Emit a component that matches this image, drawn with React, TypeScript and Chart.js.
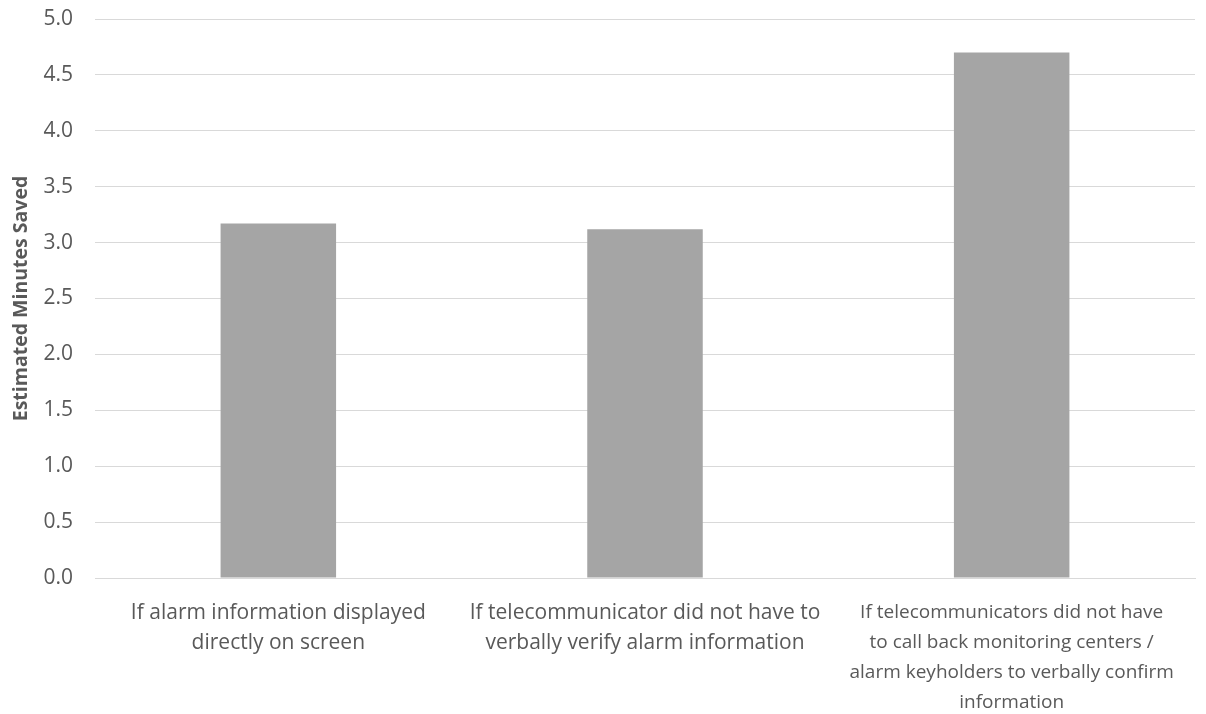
import React, { useEffect, useRef } from "react";
import { Chart, registerables } from "chart.js";

Chart.register(...registerables);

const categories: string[][] = [
  ["If alarm information displayed", "directly on screen"],
  ["If telecommunicator did not have to", "verbally verify alarm information"],
  ["If telecommunicators did not have", "to call back monitoring centers /", "alarm keyholders to verbally confirm", "information"],
];
const minutesSaved: number[] = [3.17, 3.12, 4.7];
const yTicks: number[] = [0, 0.5, 1, 1.5, 2, 2.5, 3, 3.5, 4, 4.5, 5];
const yTitle = "Estimated Minutes Saved";

const TEXT = "#595959";
const FONT = "'Open Sans', 'DejaVu Sans', sans-serif";
// the long third label is set a little tighter than the other two
const labelSizes: number[] = [21, 21, 19];

export default function App() {
  const ref = useRef<HTMLCanvasElement | null>(null);

  useEffect(() => {
    if (!ref.current) return;
    const chart = new Chart(ref.current, {
      type: "bar",
      data: {
        labels: categories,
        datasets: [
          {
            data: minutesSaved,
            backgroundColor: "#a5a5a5",
            borderWidth: 0,
            barPercentage: 0.63,
            categoryPercentage: 0.5,
          },
        ],
      },
      options: {
        animation: false,
        responsive: false,
        maintainAspectRatio: false,
        layout: { padding: { top: 19, right: 11, left: 0, bottom: 0 } },
        plugins: { legend: { display: false }, tooltip: { enabled: false } },
        scales: {
          x: {
            grid: { display: false, drawTicks: false },
            border: { color: "#d9d9d9", width: 1 },
            ticks: {
              color: TEXT,
              padding: 20,
              maxRotation: 0,
              autoSkip: false,
              font: (ctx: any) => ({
                family: FONT,
                size: labelSizes[ctx.index] ?? 20,
                lineHeight: "30px",
              }),
            },
            afterFit: (s: any) => {
              s.height = 136;
            },
          },
          y: {
            min: 0,
            max: 5,
            afterBuildTicks: (s: any) => {
              s.ticks = yTicks.map((v) => ({ value: v }));
            },
            grid: { color: "#d9d9d9", drawTicks: false },
            border: { display: false },
            ticks: {
              color: TEXT,
              padding: 22,
              font: { family: FONT, size: 21 },
              callback: (v: any) => Number(v).toFixed(1),
            },
            title: {
              display: true,
              text: yTitle,
              color: TEXT,
              font: { family: FONT, size: 19.5, weight: "bold" },
              padding: { top: 10, bottom: 0 },
            },
            afterFit: (s: any) => {
              s.width = 95;
              s.paddingTop = 0;
              s.paddingBottom = 0;
            },
          },
        },
      },
    });
    return () => chart.destroy();
  }, []);

  return (
    <div style={{ position: "absolute", left: 0, top: 0, width: 1206, height: 714, background: "#fff" }}>
      <canvas ref={ref} width={1206} height={714} />
    </div>
  );
}
